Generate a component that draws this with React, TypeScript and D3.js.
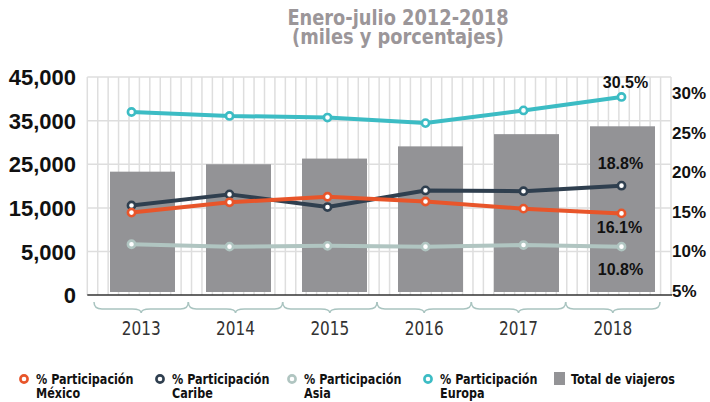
import React from "react";
import * as d3 from "d3";

const years = ["2013", "2014", "2015", "2016", "2017", "2018"];
const totalViajeros = [23300, 25000, 26300, 29100, 31900, 33700];
const mexico = [14.9, 16.2, 16.9, 16.3, 15.4, 14.8];
const caribe = [15.8, 17.2, 15.6, 17.7, 17.6, 18.3];
const asia = [10.9, 10.6, 10.7, 10.6, 10.8, 10.6];
const europa = [27.6, 27.1, 26.9, 26.2, 27.8, 29.5];
const leftTicks = [0, 5000, 15000, 25000, 35000, 45000];
const rightTicks = [5, 10, 15, 20, 25, 30];
const endLabels = ["30.5%", "18.8%", "16.1%", "10.8%"];
const titleLines = ["Enero-julio 2012-2018", "(miles y porcentajes)"];
const legendNames = [
  ["% Participación", "México"],
  ["% Participación", "Caribe"],
  ["% Participación", "Asia"],
  ["% Participación", "Europa"],
];
const legendBar = "Total de viajeros";

const C = {
  mexico: "#e8552a",
  caribe: "#2f3f4f",
  asia: "#b0c5c1",
  europa: "#3cbcc4",
  bar: "#939396",
  grid: "#dedede",
  title: "#9b9699",
  brace: "#a9c4c0",
};

const COND = "'DejaVu Sans Condensed', 'DejaVu Sans', sans-serif";
const BOLD = "'Liberation Sans', Arial, sans-serif";

function CText(props: {
  x: number; y: number; sx: number; children: React.ReactNode; anchor?: string;
  size: number; weight?: string; fill: string; family?: string;
}) {
  const { x, y, sx, children, anchor = "start", size, weight = "normal", fill, family = COND } = props;
  return (
    <text
      transform={`translate(${x},${y}) scale(${sx},1)`}
      textAnchor={anchor}
      fontFamily={family}
      fontWeight={weight}
      fontSize={size}
      fill={fill}
    >
      {children}
    </text>
  );
}

export default function App() {
  const W = 710, H = 402;
  const plotL = 87.3, plotR = 671, plotT = 77, base = 295;

  const yL = d3.scaleLinear().domain([0, 5000, 45000]).range([base, 251.5, plotT]);
  const yR = d3.scaleLinear().domain([5, 30]).range([291, 93]);
  const xBar = d3.scaleBand().domain(years).range([110, 655]).paddingInner(0.323).paddingOuter(0);
  const xPt = d3.scalePoint().domain(years).range([131.5, 621.5]);
  const xBand = d3.scaleBand().domain(years).range([94, 660]);

  const vCount = 56;
  const vLines = d3.range(vCount + 1).map((i) => plotL + ((plotR - plotL) * i) / vCount);
  const hLines = leftTicks.filter((t) => t > 0).map((t) => yL(t));

  const line = d3
    .line<number>()
    .x((_, i) => xPt(years[i]) as number)
    .y((d) => yR(d));

  const series = [
    { key: "asia", vals: asia, color: C.asia },
    { key: "caribe", vals: caribe, color: C.caribe },
    { key: "mexico", vals: mexico, color: C.mexico },
    { key: "europa", vals: europa, color: C.europa },
  ];

  const last = years[years.length - 1];
  const lx = (xPt(last) as number) + 1;
  const labelPos = [
    { t: endLabels[0], x: lx + 3, y: yR(europa[5]) - 9 },
    { t: endLabels[1], x: lx - 2, y: yR(caribe[5]) - 17 },
    { t: endLabels[2], x: lx - 3, y: yR(mexico[5]) + 20 },
    { t: endLabels[3], x: lx - 2, y: yR(asia[5]) + 28 },
  ];

  const brace = (a: number, b: number) => {
    const m = (a + b) / 2;
    const t = 302, f = 309, d = 313;
    return `M${a},${t} Q${a},${f} ${a + 8},${f} L${m - 9},${f} Q${m},${f} ${m},${d} Q${m},${f} ${m + 9},${f} L${b - 8},${f} Q${b},${f} ${b},${t}`;
  };

  const legendX = [24, 160, 292, 428];
  const legendColors = [C.mexico, C.caribe, C.asia, C.europa];

  return (
    <svg width={W} height={H} style={{ position: "absolute", left: 0, top: 0, background: "#fff" }}>
      {/* title */}
      {titleLines.map((t, i) => (
        <CText key={t} x={398} y={25 + i * 19} sx={0.9} anchor="middle" size={22} weight="bold" fill={C.title}>
          {t}
        </CText>
      ))}

      {/* grid */}
      {vLines.map((x, i) => (
        <line key={"v" + i} x1={x} x2={x} y1={plotT} y2={base} stroke={C.grid} strokeWidth={1.5} />
      ))}
      {hLines.map((y, i) => (
        <line key={"h" + i} x1={plotL} x2={plotR} y1={y} y2={y} stroke={C.grid} strokeWidth={1.5} />
      ))}

      {/* bars */}
      {totalViajeros.map((v, i) => (
        <rect key={"b" + i} x={xBar(years[i])} width={xBar.bandwidth()} y={yL(v)} height={yL(0) - 3 - yL(v)} fill={C.bar} />
      ))}

      {/* baseline */}
      <line x1={plotL} x2={plotR + 1} y1={base} y2={base} stroke="#333" strokeWidth={1.5} />

      {/* left axis */}
      {leftTicks.map((t) => (
        <text key={"l" + t} x={76} y={yL(t) + 8} textAnchor="end" fontFamily={BOLD} fontWeight="bold" fontSize={22} fill="#111">
          {d3.format(",")(t)}
        </text>
      ))}
      {/* right axis */}
      {rightTicks.map((t) => (
        <text key={"r" + t} x={672} y={yR(t) + 6} fontFamily={BOLD} fontWeight="bold" fontSize={17} fill="#111">
          {t + "%"}
        </text>
      ))}

      {/* lines */}
      {series.map((s) => (
        <g key={s.key}>
          <path d={line(s.vals) as string} fill="none" stroke={s.color} strokeWidth={4} strokeLinejoin="round" />
          {s.vals.map((v, i) => (
            <circle key={i} cx={xPt(years[i])} cy={yR(v)} r={3.6} fill="#fff" stroke={s.color} strokeWidth={2.6} />
          ))}
        </g>
      ))}

      {/* end labels */}
      {labelPos.map((l) => (
        <text key={l.t} x={l.x} y={l.y} textAnchor="middle" fontFamily={BOLD} fontWeight="bold" fontSize={16} fill="#111">
          {l.t}
        </text>
      ))}

      {/* braces & years */}
      {years.map((y) => {
        const a = xBand(y) as number;
        const b = a + xBand.bandwidth();
        return (
          <g key={"y" + y}>
            <path d={brace(a, b)} fill="none" stroke={C.brace} strokeWidth={1.5} />
            <CText x={(a + b) / 2} y={335} sx={0.85} anchor="middle" size={20} fill="#333">
              {y}
            </CText>
          </g>
        );
      })}

      {/* legend */}
      {legendNames.map((n, i) => (
        <g key={"lg" + i}>
          <circle cx={legendX[i]} cy={379} r={3.6} fill="#fff" stroke={legendColors[i]} strokeWidth={2.6} />
          <CText x={legendX[i] + 12} y={384} sx={0.86} size={14.5} weight="bold" fill="#111">
            {n[0]}
          </CText>
          <CText x={legendX[i] + 12} y={398} sx={0.86} size={14.5} weight="bold" fill="#111">
            {n[1]}
          </CText>
        </g>
      ))}
      <rect x={554} y={372} width={11} height={13} fill={C.bar} />
      <CText x={571} y={384} sx={0.86} size={14.5} weight="bold" fill="#111">
        {legendBar}
      </CText>
    </svg>
  );
}
